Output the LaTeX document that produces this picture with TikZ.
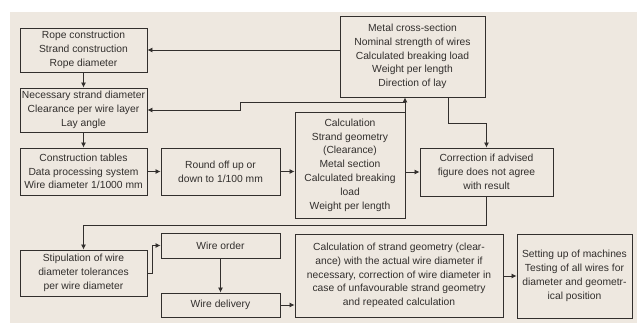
\documentclass[tikz,border=0pt]{standalone}
\usepackage{fontspec}
\setmainfont{Liberation Sans}
\usetikzlibrary{arrows.meta}
\definecolor{paper}{RGB}{238,232,224}
\definecolor{ink}{RGB}{50,47,45}
\tikzset{
  box/.style={draw=ink, line width=0.9pt, align=center, inner sep=1pt,
    text=ink, font=\fontsize{10.3}{13.8}\selectfont},
  arr/.style={draw=ink, line width=0.8pt, -{Latex[length=5pt,width=5pt]}}
}
\begin{document}
\begin{tikzpicture}[x=1pt,y=-1pt]
    \useasboundingbox (0,0) rectangle (641,323);
    \fill[paper] (10,12) rectangle (637,323);
    % Left column
    \node[box, minimum width=127pt, minimum height=44pt] (rope) at (83.5,50) {Rope construction\\Strand construction\\Rope diameter};
    \node[box, minimum width=127pt, minimum height=44pt] (strand) at (83.5,110) {Necessary strand diameter\\Clearance per wire layer\\Lay angle};
    \node[box, minimum width=127pt, minimum height=47pt] (tables) at (83.5,171.5) {Construction tables\\Data processing system\\Wire diameter 1/1000 mm};
    \node[box, minimum width=127pt, minimum height=46pt] (stip) at (83.5,273) {Stipulation of wire\\diameter tolerances\\per wire diameter};
    % Middle
    \node[box, minimum width=119pt, minimum height=47pt] (round) at (220.5,171.5) {Round off up or\\down to 1/100 mm};
    \node[box, minimum width=119pt, minimum height=25pt] (order) at (220.5,245.5) {Wire order};
    \node[box, minimum width=119pt, minimum height=24pt] (deliv) at (220.5,305) {Wire delivery};
    \node[box, minimum width=110pt, minimum height=106pt] (calc) at (350,165) {Calculation\\Strand geometry\\(Clearance)\\Metal section\\Calculated breaking\\load\\Weight per length};
    \node[box, minimum width=145pt, minimum height=81pt] (metal) at (412.5,56.5) {Metal cross-section\\Nominal strength of wires\\Calculated breaking load\\Weight per length\\Direction of lay};
    % Right
    \node[box, minimum width=133pt, minimum height=48pt] (corr) at (486.5,172) {Correction if advised\\figure does not agree\\with result};
    \node[box, minimum width=208pt, minimum height=83pt] (recalc) at (399,275.5) {Calculation of strand geometry (clear-\\ance) with the actual wire diameter if\\necessary, correction of wire diameter in\\case of unfavourable strand geometry\\and repeated calculation};
    \node[box, minimum width=115pt, minimum height=84pt] (setup) at (574.5,276) {Setting up of machines\\Testing of all wires for\\diameter and geometr-\\ical position};
    % Connectors
    \coordinate (split) at (405,102);
    \coordinate (bend) at (240,102);
    \draw[arr] (rope.east -| metal.west) -- (rope.east);
    \draw[arr] (rope) -- (strand);
    \draw[arr] (strand) -- (tables);
    \draw[arr] (calc.north -| split) -- (split |- metal.south);
    \draw[arr] (split) -- (bend) |- (strand.east);
    \draw[arr] (tables) -- (round);
    \draw[arr] (round.east) -- (round.east -| calc.west);
    \draw[arr] (calc.east |- corr.west) -- (corr.west);
    \draw[arr] ([xshift=35.5pt]metal.south) -- ++(0,26) -| (corr.north);
    \draw[arr] (corr.south) -- ++(0,29) -| (stip.north);
    \draw[arr] (stip.east) -- ++(5,0) |- (order.west);
    \draw[arr] (order) -- (deliv);
    \draw[arr] (deliv.east) -- (deliv.east -| recalc.west);
    \draw[arr] (recalc.east |- setup.west) -- (setup.west);
\end{tikzpicture}
\end{document}
